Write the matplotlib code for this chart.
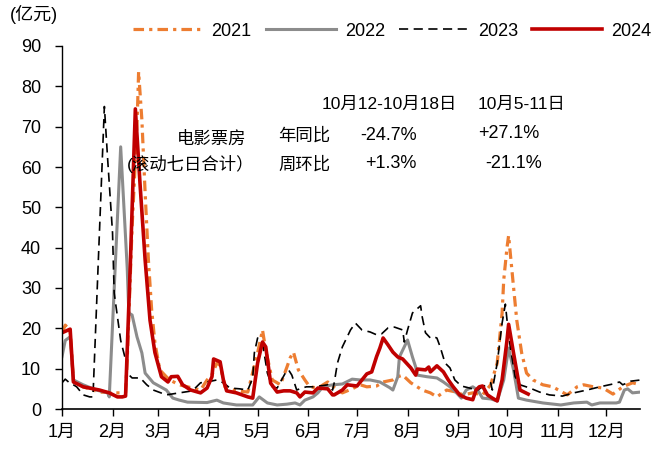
import matplotlib
matplotlib.use("Agg")
import matplotlib.pyplot as plt

plt.rcParams['font.family'] = ['Liberation Sans', 'Noto Sans CJK SC', 'DejaVu Sans']
plt.rcParams['axes.unicode_minus'] = False

# ---- data (day of year, 滚动七日票房 亿元) ----
days_2021 = [1, 3, 6, 8, 14, 24, 35, 40, 41, 44, 47, 48, 50, 52, 54, 56, 58, 61, 65, 67, 73, 81, 86, 90,
             93, 96, 98, 101, 104, 108, 115, 121, 124, 126, 130, 133, 135, 139, 141, 143, 146, 150, 153,
             158, 164, 170, 173, 179, 184, 188, 194, 198, 204, 207, 210, 215, 222, 227, 231, 237, 243,
             247, 253, 259, 264, 268, 271, 272, 274, 275, 276, 278, 280, 283, 286, 290, 296, 302, 311,
             317, 321, 327, 333, 339, 345, 351, 356]
vals_2021 = [18.9, 20.8, 19.5, 7.0, 5.5, 4.2, 4.0, 4.0, 12.0, 45.0, 70.0, 83.6, 71.7, 53.6, 37.0, 24.6,
             16.4, 9.7, 8.0, 7.2, 6.0, 5.2, 4.7, 7.2, 8.5, 11.4, 10.9, 5.5, 5.0, 4.5, 4.2, 13.9, 19.6,
             14.6, 7.2, 6.5, 6.0, 10.4, 12.7, 14.1, 9.7, 7.2, 5.5, 5.2, 6.7, 4.7, 4.0, 5.0, 6.0, 5.5, 5.7,
             6.7, 7.2, 8.0, 8.4, 6.5, 4.7, 4.0, 3.0, 4.7, 4.2, 3.5, 4.0, 3.5, 6.0, 11.4, 23.8, 32.0,
             40.0, 43.0, 38.7, 30.3, 22.0, 13.9, 8.9, 7.2, 6.0, 5.5, 3.5, 5.5, 6.0, 5.5, 5.2, 3.7, 5.5,
             6.5, 6.0]

days_2022 = [1, 3, 6, 8, 14, 22, 29, 30, 37, 41, 42, 44, 47, 50, 52, 57, 65, 69, 73, 78, 90, 96, 100,
             108, 118, 122, 127, 133, 139, 144, 147, 150, 155, 158, 161, 167, 173, 179, 184, 190, 196,
             202, 204, 207, 208, 213, 216, 218, 219, 225, 231, 235, 239, 243, 246, 249, 253, 256, 259,
             264, 268, 272, 275, 278, 281, 286, 296, 307, 315, 323, 326, 331, 341, 343, 346, 348, 351,
             356]
vals_2022 = [13.0, 17.0, 17.9, 7.2, 6.0, 4.7, 4.0, 3.0, 65.0, 35.0, 23.8, 23.3, 17.9, 13.9, 8.9, 6.5,
             4.7, 2.7, 2.2, 1.7, 1.6, 2.2, 1.5, 1.0, 1.0, 3.0, 1.5, 1.0, 1.2, 1.5, 1.0, 2.2, 3.0, 4.0,
             5.5, 6.0, 6.2, 7.4, 7.2, 7.2, 6.7, 5.3, 4.7, 8.0, 12.9, 17.1, 12.9, 10.4, 8.4, 8.0, 7.7,
             6.7, 5.5, 4.0, 2.7, 4.7, 5.5, 4.7, 2.7, 2.5, 2.0, 7.2, 15.1, 9.7, 2.7, 2.2, 1.5, 1.0, 1.5,
             1.7, 1.0, 1.5, 1.5, 1.7, 4.7, 5.0, 4.0, 4.2]

days_2023 = [1, 3, 5, 8, 10, 14, 18, 20, 27, 29, 32, 33, 37, 40, 41, 44, 49, 53, 57, 65, 73, 81, 86,
             90, 96, 100, 104, 110, 115, 118, 119, 121, 124, 127, 130, 133, 135, 138, 140, 142, 145,
             148, 151, 155, 159, 164, 167, 168, 170, 173, 178, 181, 185, 190, 194, 197, 201, 205, 210,
             211, 213, 216, 221, 222, 224, 227, 229, 231, 233, 236, 239, 242, 246, 251, 256, 259, 264,
             265, 268, 271, 273, 274, 276, 279, 282, 288, 294, 300, 308, 315, 323, 331, 339, 343, 345,
             350, 356]
vals_2023 = [6.5, 7.4, 6.7, 6.0, 5.5, 3.5, 3.0, 3.0, 75.0, 62.0, 43.7, 28.8, 17.0, 12.2, 8.9, 7.7, 7.7,
             6.0, 4.7, 3.5, 4.0, 4.5, 6.5, 6.7, 7.2, 6.5, 5.2, 5.0, 4.7, 7.7, 13.9, 17.6, 16.4, 8.9,
             5.5, 5.2, 6.7, 8.9, 9.7, 8.4, 4.7, 5.2, 5.5, 5.5, 5.7, 6.0, 4.7, 6.5, 11.4, 15.4, 19.6,
             21.3, 19.6, 19.1, 18.4, 18.6, 20.1, 20.3, 19.6, 16.6, 19.6, 23.8, 25.6, 22.8, 18.9, 17.6,
             17.9, 17.6, 15.4, 11.4, 10.2, 7.2, 5.7, 5.2, 4.7, 5.5, 6.5, 4.7, 11.4, 21.3, 26.0, 22.1,
             15.4, 8.0, 6.0, 5.2, 4.2, 3.5, 3.2, 4.0, 4.7, 5.5, 6.2, 6.7, 6.0, 6.9, 7.2]

days_2024 = [1, 6, 8, 14, 24, 30, 35, 38, 40, 43, 46, 49, 52, 55, 58, 62, 66, 68, 72, 75, 80, 86, 90,
             93, 94, 98, 100, 102, 108, 115, 118, 121, 124, 126, 129, 133, 137, 141, 145, 147, 150,
             155, 158, 164, 167, 168, 173, 176, 182, 185, 188, 191, 194, 196, 198, 201, 204, 207, 210,
             215, 218, 219, 224, 226, 227, 231, 235, 238, 241, 245, 249, 253, 255, 257, 259, 262, 265,
             268, 271, 274, 275, 278, 282, 287]
vals_2024 = [18.9, 19.8, 6.7, 5.5, 4.7, 4.0, 3.0, 3.0, 3.2, 37.0, 74.4, 55.0, 37.0, 22.0, 14.0, 8.0,
             6.7, 8.0, 8.1, 6.0, 4.7, 4.0, 5.2, 8.0, 12.4, 11.7, 7.2, 4.5, 4.0, 3.0, 2.7, 11.4, 16.6,
             15.4, 6.4, 4.2, 4.5, 4.5, 4.0, 3.0, 4.2, 4.0, 5.2, 5.0, 3.5, 3.5, 4.7, 6.0, 5.7, 7.2, 8.7,
             9.2, 13.0, 15.1, 17.6, 15.9, 14.1, 12.9, 12.4, 10.2, 8.4, 9.9, 9.7, 10.4, 9.2, 10.7, 9.2,
             7.2, 5.5, 3.5, 2.7, 2.3, 4.7, 5.5, 5.7, 3.5, 2.7, 2.0, 7.2, 17.0, 21.0, 13.9, 4.7, 3.7]

month_ticks = [1, 32, 60, 91, 121, 152, 182, 213, 244, 274, 305, 335]
month_labels = ["1月", "2月", "3月", "4月", "5月", "6月", "7月", "8月", "9月", "10月", "11月", "12月"]
y_ticks = [0, 10, 20, 30, 40, 50, 60, 70, 80, 90]

W, H = 651, 450
fig = plt.figure(figsize=(W / 100, H / 100), dpi=100)
ax = fig.add_axes([62 / W, 1 - 409 / H, 578 / W, 363 / H])

l1, = ax.plot(days_2021, vals_2021, color='#ED7D31', lw=2.3, linestyle=(0, (3.3, 1.6, 1.0, 1.6)),
              label='2021')
l2, = ax.plot(days_2022, vals_2022, color='#8C8C8C', lw=2.2, label='2022')
l3, = ax.plot(days_2023, vals_2023, color='black', lw=1.2, linestyle=(0, (5.5, 3.3)), label='2023')
l4, = ax.plot(days_2024, vals_2024, color='#C00000', lw=2.6, label='2024')

ax.set_xlim(1, 355.6)
ax.set_ylim(0, 90)
ax.set_xticks(month_ticks)
ax.set_xticklabels(month_labels)
ax.set_yticks(y_ticks)
for s in ['top', 'right']:
    ax.spines[s].set_visible(False)
ax.spines['left'].set_linewidth(1.0)
ax.spines['bottom'].set_linewidth(1.2)
ax.tick_params(axis='y', direction='out', length=5, width=1, pad=10, labelsize=13)
ax.tick_params(axis='x', direction='out', length=5, width=1, pad=6, labelsize=13)

fig.legend(handles=[l1, l2, l3, l4], labels=['2021', '2022', '2023', '2024'], ncol=4,
           loc='center left', bbox_to_anchor=(133 / W, 1 - 31 / H), frameon=False,
           borderpad=0, borderaxespad=0, handlelength=3.85, handletextpad=0.5,
           columnspacing=0.8, fontsize=13)

def ftext(x, y, s, ha='left', size=12.5):
    fig.text(x / W, 1 - y / H, s, ha=ha, va='center', fontsize=size)

ftext(10, 15, "(亿元)", size=13)
ftext(177, 139, "电影票房")
ftext(127, 164, "(滚动七日合计）")
ftext(278, 135, "年同比")
ftext(278, 164, "周环比")
ftext(322, 104, "10月12-10月18日", size=12.5)
ftext(478, 104, "10月5-11日", size=12.5)
ftext(360, 135, "-24.7%", size=13)
ftext(478, 133, "+27.1%", size=13)
ftext(365, 164, "+1.3%", size=13)
ftext(485, 163, "-21.1%", size=13)

fig.savefig("out.png", dpi=100)
